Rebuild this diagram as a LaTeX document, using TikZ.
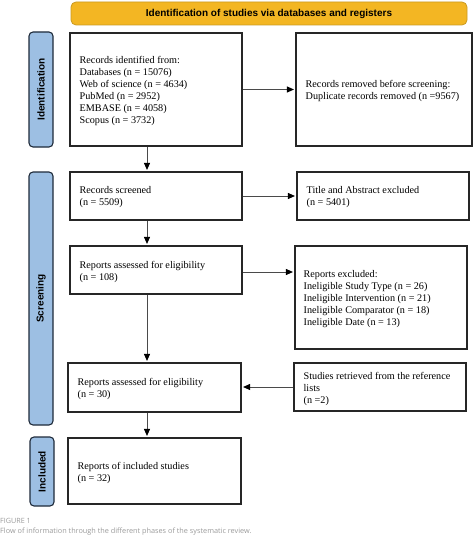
\documentclass[tikz,border=0pt]{standalone}
\usepackage{fontspec}
\setmainfont{Liberation Serif}
\setsansfont{Liberation Sans}
\newfontfamily\capfont{Open Sans}
\usetikzlibrary{arrows.meta}
\definecolor{hdrfill}{HTML}{F3B623}
\definecolor{hdrdraw}{HTML}{C99A22}
\definecolor{pillfill}{HTML}{9DBFE3}
\definecolor{pilldraw}{HTML}{1E2A3A}
\definecolor{linegray}{HTML}{4A4A4A}
\definecolor{capgray}{HTML}{9A9A9A}
\begin{document}
\begin{tikzpicture}[x=1pt,y=-1pt,
  box/.style={draw=black!85, line width=1.1pt, fill=white, inner sep=0pt, anchor=center},
  btext/.style={anchor=west, inner sep=0pt, align=left, font=\fontsize{10.2}{12}\selectfont},
  pill/.style={draw=pilldraw, line width=1.1pt, fill=pillfill, rounded corners=4pt,
    minimum width=24pt, inner sep=0pt},
  pilltext/.style={rotate=90, font=\sffamily\bfseries\fontsize{10}{12}\selectfont},
  hdr/.style={draw=hdrdraw, line width=0.8pt, fill=hdrfill, rounded corners=5pt,
    minimum width=396pt, minimum height=23pt, inner sep=0pt,
    font=\sffamily\bfseries\fontsize{10}{12}\selectfont},
  arr/.style={draw=linegray, line width=0.9pt, -{Triangle[length=7pt,width=6pt,color=black]}, shorten >=1.5pt}
]
\useasboundingbox (0,0) rectangle (474,535);

\node[hdr] (hdr) at (269,13.5) {Identification of studies via databases and registers};

\node[pill, minimum height=115pt] (idp) at (41,89.5) {};
\node[pilltext] (idt) at (idp.center) {Identification};
\node[pill, minimum height=253pt] (scp) at (41,298.5) {};
\node[pilltext] (sct) at (scp.center) {Screening};
\node[pill, minimum height=69pt] (inp) at (42,471.5) {};
\node[pilltext] (intt) at (inp.center) {Included};

\node[box, minimum width=172pt, minimum height=113pt] (b1) at (156,89.5) {};
\node[btext] (t1) at ([xshift=10pt,yshift=-1pt]b1.west)
  {Records identified from:\\Databases (n = 15076)\\Web of science (n = 4634)\\PubMed (n = 2952)\\EMBASE (n = 4058)\\Scopus (n = 3732)};
\node[box, minimum width=176pt, minimum height=113pt] (r1) at (384,89.5) {};
\node[btext] (tr1) at ([xshift=10pt,yshift=-1pt]r1.west)
  {Records removed before screening:\\Duplicate records removed (n =9567)};

\node[box, minimum width=172pt, minimum height=48pt] (b2) at (156,196) {};
\node[btext] (t2) at ([xshift=10pt,yshift=-1.5pt]b2.west) {Records screened\\(n = 5509)};
\node[box, minimum width=172pt, minimum height=48pt] (r2) at (383,196) {};
\node[btext] (tr2) at ([xshift=10pt,yshift=-1.5pt]r2.west) {Title and Abstract excluded\\(n = 5401)};

\node[box, minimum width=172pt, minimum height=48pt] (b3) at (156,270) {};
\node[btext] (t3) at ([xshift=10pt,yshift=-1.5pt]b3.west) {Reports assessed for eligibility\\(n = 108)};
\node[box, minimum width=172pt, minimum height=103pt] (r3) at (381,297.5) {};
\node[btext] (tr3) at ([xshift=9pt,yshift=-1.5pt]r3.west)
  {Reports excluded:\\Ineligible Study Type (n = 26)\\Ineligible Intervention (n = 21)\\Ineligible Comparator (n = 18)\\Ineligible Date (n = 13)};

\node[box, minimum width=173pt, minimum height=49pt] (b4) at (154.5,387.5) {};
\node[btext] (t4) at ([xshift=10pt,yshift=-1.5pt]b4.west) {Reports assessed for eligibility\\(n = 30)};
\node[box, minimum width=172pt, minimum height=48pt] (r4) at (380,387) {};
\node[btext] (tr4) at ([xshift=10pt,yshift=-1.5pt]r4.west) {Studies retrieved from the reference\\lists\\(n =2)};

\node[box, minimum width=173pt, minimum height=66pt] (b5) at (154.5,471) {};
\node[btext] (t5) at ([xshift=10pt,yshift=-1.5pt]b5.west) {Reports of included studies\\(n = 32)};

\coordinate (ax) at (147,0);
\draw[arr] (b1.south -| ax) -- (b2.north -| ax);
\draw[arr] (b2.south -| ax) -- (b3.north -| ax);
\draw[arr] (b3.south -| ax) -- (b4.north -| ax);
\draw[arr] (b4.south -| ax) -- (b5.north -| ax);

\draw[arr] (b1.east) -- (b1.east -| r1.west);
\draw[arr] (b2.east) -- (b2.east -| r2.west);
\coordinate (y3) at (0,272);
\draw[arr] (b3.east |- y3) -- (r3.west |- y3);
\draw[arr] (r4.west) -- (r4.west -| b4.east);

\node[anchor=west, inner sep=0pt, text=capgray, font=\capfont\fontsize{7.2}{8}\selectfont] (fig) at (0,521) {FIGURE 1};
\node[anchor=west, inner sep=0pt, text=capgray, font=\capfont\fontsize{7.3}{8}\selectfont] (cap) at (0,531.5) {Flow of information through the different phases of the systematic review.};
\end{tikzpicture}
\end{document}
